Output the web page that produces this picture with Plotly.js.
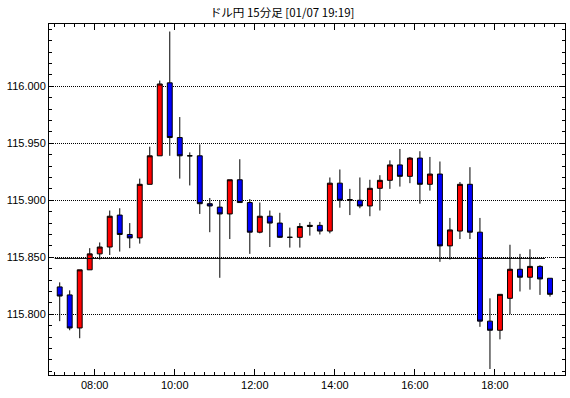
<!DOCTYPE html>
<html>
<head>
<meta charset="utf-8">
<script src="https://cdn.plot.ly/plotly-3.0.1.min.js"></script>
<style>html,body{margin:0;padding:0;background:#fff;}#chart{width:570px;height:398px;}</style>
</head>
<body>
<div id="chart"></div>
<script>
// Candle start times (15-minute bars), 2022-01-07
var times = ["07:00","07:15","07:30","07:45","08:00","08:15","08:30","08:45","09:00","09:15",
             "09:30","09:45","10:00","10:15","10:30","10:45","11:00","11:15","11:30","11:45",
             "12:00","12:15","12:30","12:45","13:00","13:15","13:30","13:45","14:00","14:15",
             "14:30","14:45","15:00","15:15","15:30","15:45","16:00","16:15","16:30","16:45",
             "17:00","17:15","17:30","17:45","18:00","18:15","18:30","18:45","19:00","19:15"];
var openV  = [115.824,115.817,115.788,115.839,115.853,115.859,115.887,115.870,115.867,115.914,
              115.939,116.003,115.955,115.939,115.939,115.897,115.894,115.888,115.918,115.898,
              115.872,115.886,115.880,115.8675,115.8675,115.877,115.878,115.873,115.915,115.900,
              115.900,115.895,115.9105,115.9175,115.931,115.921,115.937,115.914,115.923,115.860,
              115.873,115.914,115.872,115.794,115.786,115.814,115.8395,115.8325,115.842,115.8316];
var highV  = [115.828,115.821,115.839,115.858,115.863,115.891,115.893,115.880,115.919,115.947,
              116.005,116.048,115.973,115.942,115.949,115.902,115.900,115.918,115.936,115.901,
              115.898,115.891,115.889,115.876,115.880,115.881,115.881,115.920,115.927,115.910,
              115.920,115.918,115.922,115.935,115.945,115.938,115.943,115.938,115.934,115.8845,
              115.916,115.929,115.8845,115.814,115.8175,115.861,115.853,115.857,115.843,115.8316];
var lowV   = [115.794,115.786,115.779,115.839,115.848,115.852,115.855,115.858,115.862,115.914,
              115.939,115.939,115.919,115.913,115.888,115.872,115.832,115.866,115.898,115.853,
              115.871,115.859,115.867,115.8585,115.8585,115.869,115.870,115.871,115.8935,115.887,
              115.893,115.886,115.891,115.910,115.912,115.915,115.897,115.9085,115.846,115.848,
              115.866,115.866,115.789,115.752,115.778,115.800,115.820,115.8216,115.817,115.8155];
var closeV = [115.816,115.788,115.839,115.853,115.859,115.886,115.870,115.867,115.914,115.939,
              116.002,115.955,115.939,115.939,115.897,115.895,115.888,115.918,115.898,115.872,
              115.886,115.880,115.8675,115.8675,115.877,115.878,115.873,115.915,115.900,115.9005,
              115.895,115.9105,115.9175,115.931,115.921,115.937,115.914,115.923,115.860,115.874,
              115.914,115.872,115.794,115.786,115.8175,115.8395,115.8325,115.842,115.831,115.8175];
var yTicks = [115.800, 115.850, 115.900, 115.950, 116.000];
var yTickText = ["115.800", "115.850", "115.900", "115.950", "116.000"];
var refLevel = 115.849;
var day = "2022-01-07";

function center(t){
  var hh = t.slice(0,2), mm = parseInt(t.slice(3,5),10) + 7;
  return day + " " + hh + ":" + (mm < 10 ? "0" + mm : mm) + ":30";
}
var xs = times.map(center);

var trace = {
  type: "candlestick",
  x: xs, open: openV, high: highV, low: lowV, close: closeV,
  increasing: {line: {color: "#000000", width: 1}, fillcolor: "#ff0000"},
  decreasing: {line: {color: "#000000", width: 1}, fillcolor: "#0000ff"},
  whiskerwidth: 0,
  hoverinfo: "skip",
  showlegend: false
};

var tickFont = {family: "Liberation Sans, Arial, sans-serif", size: 11, color: "#000"};

var layout = {
  width: 570, height: 398,
  margin: {l: 49, r: 5, t: 24, b: 23, pad: 0},
  paper_bgcolor: "#ffffff", plot_bgcolor: "#ffffff",
  showlegend: false,
  title: {text: "ドル円 15分足 [01/07 19:19]", x: 0.495, xref: "container", xanchor: "center",
          y: 1, yref: "container", yanchor: "top", pad: {t: 9},
          font: {family: "Noto Sans CJK JP, sans-serif", size: 11.5, color: "#000"}},
  xaxis: {
    type: "date",
    range: [day + " 06:51:27", day + " 19:45:00"],
    rangeslider: {visible: false},
    tick0: day + " 00:00", dtick: 7200000, tickformat: "%H:%M",
    ticks: "inside", ticklen: 6, tickcolor: "#000", tickwidth: 1,
    minor: {dtick: 900000, ticks: "inside", ticklen: 3, tickcolor: "#000", tickwidth: 1, showgrid: false},
    showline: true, linecolor: "#000", linewidth: 1, mirror: "allticks",
    showgrid: false, zeroline: false,
    tickfont: tickFont, fixedrange: true
  },
  yaxis: {
    range: [115.74675, 116.0546],
    tickmode: "array", tickvals: yTicks, ticktext: yTickText,
    ticks: "inside", ticklen: 5, tickcolor: "#000", tickwidth: 1,
    minor: {tickmode: "linear", tick0: 115.8, dtick: 0.01, ticks: "inside", ticklen: 3, tickcolor: "#000", tickwidth: 1, showgrid: false},
    showline: true, linecolor: "#000", linewidth: 1, mirror: "allticks",
    showgrid: true, gridcolor: "#000", gridwidth: 1, griddash: "1px,1px",
    zeroline: false, tickfont: tickFont, fixedrange: true
  },
  shapes: [{
    type: "line", xref: "x", yref: "y",
    x0: day + " 07:00", x1: day + " 19:15", y0: refLevel, y1: refLevel,
    line: {color: "#000", width: 1}
  }]
};

Plotly.newPlot("chart", [trace], layout, {staticPlot: true, displayModeBar: false});
</script>
</body>
</html>
